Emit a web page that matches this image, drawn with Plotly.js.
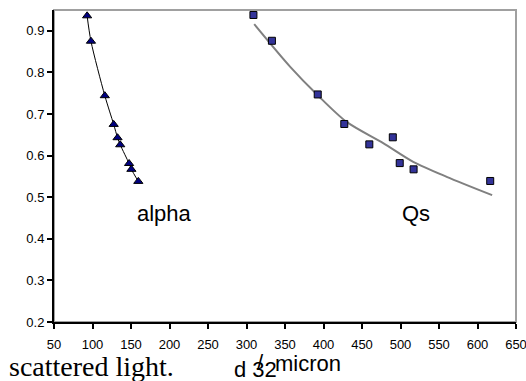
<!DOCTYPE html>
<html>
<head>
<meta charset="utf-8">
<script src="https://cdn.plot.ly/plotly-3.0.1.min.js"></script>
<style>html,body{margin:0;padding:0;background:#fff;}#chart{width:526px;height:381px;}</style>
</head>
<body>
<div id="chart"></div>
<script>
// alpha series (triangles, smoothed black line)
const alphaX = [93, 98, 116, 127.5, 132.5, 136, 147.5, 150.5, 159.5];
const alphaY = [0.936, 0.875, 0.744, 0.675, 0.643, 0.626, 0.581, 0.567, 0.538];
// Qs series (squares)
const qsX = [309, 333, 392.5, 427, 459.5, 490, 499, 517, 616.5];
const qsY = [0.938, 0.876, 0.747, 0.676, 0.627, 0.644, 0.582, 0.567, 0.539];
// Qs trend line
const trendX = [310, 356.5, 392.5, 430, 477.5, 516.5, 560, 619];
const trendY = [0.916, 0.814, 0.745, 0.681, 0.630, 0.585, 0.549, 0.505];
// tick labels
const xTicks = [50,100,150,200,250,300,350,400,450,500,550,600,650];
const yTicks = [0.2,0.3,0.4,0.5,0.6,0.7,0.8,0.9];

const sans = "Liberation Sans, Arial, sans-serif";
const serif = "Liberation Serif, Times New Roman, serif";

const traces = [
  {x: trendX, y: trendY, mode: 'lines', line: {color: '#808080', width: 2, shape: 'spline', smoothing: 0.8}, hoverinfo: 'skip'},
  {x: alphaX, y: alphaY, mode: 'lines+markers', line: {color: '#000000', width: 1, shape: 'spline', smoothing: 0.8},
   marker: {symbol: 'triangle-up', size: 8, color: '#000080', line: {color: '#000000', width: 1}}},
  {x: qsX, y: qsY, mode: 'markers',
   marker: {symbol: 'square', size: 7, color: '#333399', line: {color: '#000000', width: 1}}}
];

const layout = {
  width: 526, height: 381,
  margin: {l: 54, r: 10, t: 10, b: 59, pad: 0},
  paper_bgcolor: '#ffffff', plot_bgcolor: '#ffffff',
  showlegend: false,
  font: {family: sans, size: 13, color: '#000'},
  xaxis: {range: [50, 650], tickvals: xTicks, ticktext: xTicks.map(String), ticks: 'outside', ticklen: 5, tickwidth: 2, tickcolor: '#000',
          showline: true, linecolor: '#000', linewidth: 2, showgrid: false, zeroline: false, ticklabeloverflow: 'allow',
          ticklabelstandoff: 4, tickfont: {family: sans, size: 13, color: '#000'}},
  yaxis: {range: [0.2, 0.95], tickvals: yTicks, ticktext: yTicks.map(v => v.toFixed(1)), ticks: 'outside', ticklen: 5, tickwidth: 2, tickcolor: '#000',
          showline: true, linecolor: '#000', linewidth: 2, showgrid: false, zeroline: false, ticklabeloverflow: 'allow',
          tickfont: {family: sans, size: 13, color: '#000'}},
  shapes: [
    {type: 'rect', xref: 'paper', yref: 'paper', x0: 0, x1: 1, y0: 0, y1: 1, line: {color: '#a0a0a0', width: 2}, layer: 'below'}
  ],
  annotations: [
    {x: 193, y: 0.462, xref: 'x', yref: 'y', text: 'alpha', showarrow: false, font: {family: sans, size: 22, color: '#000'}},
    {x: 520, y: 0.462, xref: 'x', yref: 'y', text: 'Qs', showarrow: false, font: {family: sans, size: 22, color: '#000'}},
    {x: -0.102, y: -0.144, xref: 'paper', yref: 'paper', xanchor: 'left', yanchor: 'middle', text: 'scattered light.', showarrow: false, font: {family: serif, size: 28, color: '#000'}},
    {x: (232-54)/462, y: (322-369)/312, xref: 'paper', yref: 'paper', xanchor: 'left', yanchor: 'middle', text: 'd 32', showarrow: false, font: {family: sans, size: 22, color: '#000'}},
    {x: (255-54)/462, y: (322-362)/312, xref: 'paper', yref: 'paper', xanchor: 'left', yanchor: 'middle', text: '/', showarrow: false, font: {family: sans, size: 22, color: '#000'}},
    {x: (273-54)/462, y: (322-363)/312, xref: 'paper', yref: 'paper', xanchor: 'left', yanchor: 'middle', text: 'micron', showarrow: false, font: {family: sans, size: 22, color: '#000'}}
  ]
};

Plotly.newPlot('chart', traces, layout, {displayModeBar: false, staticPlot: true});
</script>
</body>
</html>
